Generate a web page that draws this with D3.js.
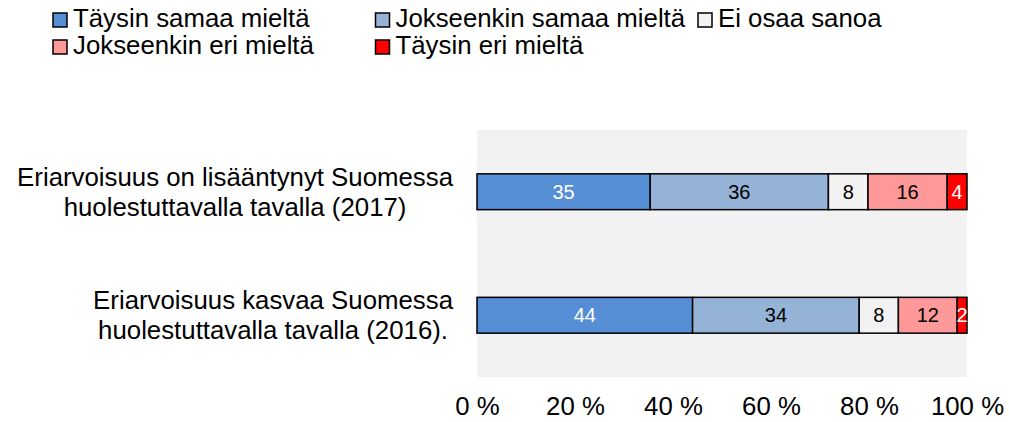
<!DOCTYPE html>
<html>
<head>
<meta charset="utf-8">
<script src="https://cdn.jsdelivr.net/npm/d3@7"></script>
<style>
  body { margin: 0; background: #fff; }
  svg { display: block; font-family: 'Liberation Sans', Arial, sans-serif; }
</style>
</head>
<body>
<div class="container"></div>
<script>
const categories = [
  ['Eriarvoisuus on lisääntynyt Suomessa', 'huolestuttavalla tavalla (2017)'],
  ['Eriarvoisuus kasvaa Suomessa', 'huolestuttavalla tavalla (2016).']
];
const seriesNames = [
  'Täysin samaa mieltä',
  'Jokseenkin samaa mieltä',
  'Ei osaa sanoa',
  'Jokseenkin eri mieltä',
  'Täysin eri mieltä'
];
const seriesColors = ['#558ED5', '#95B3D7', '#F2F2F2', '#FF9999', '#FF0000'];
const labelColors = ['#fff', '#000', '#000', '#000', '#fff'];
const values2017 = [35, 36, 8, 16, 4];
const values2016 = [44, 34, 8, 12, 2];
const tickValues = [0, 0.2, 0.4, 0.6, 0.8, 1];

const w = 1009;
const h = 422;

const svg = d3
  .select('.container')
  .append('svg')
  .attr('width', w)
  .attr('height', h);

const rows = [values2017, values2016].map((vals, i) => {
  const row = { cat: i };
  seriesNames.forEach((s, j) => (row[s] = vals[j]));
  return row;
});

const stack = d3.stack().keys(seriesNames).offset(d3.stackOffsetExpand);
const stacked = stack(rows);

const xScale = d3.scaleLinear().domain([0, 1]).range([477, 967]);
const yScale = d3
  .scaleBand()
  .domain([0, 1])
  .range([130, 377])
  .paddingInner(0.71)
  .paddingOuter(0.355);

// plot background
svg
  .append('rect')
  .attr('x', xScale(0))
  .attr('y', 130)
  .attr('width', xScale(1) - xScale(0))
  .attr('height', 247)
  .attr('fill', '#F2F2F2');

// bars
const groups = svg
  .selectAll('g.series')
  .data(stacked)
  .enter()
  .append('g')
  .attr('class', 'series');

groups
  .selectAll('rect')
  .data((d) => d.map((p) => ({ p, key: d.key, idx: d.index })))
  .enter()
  .append('rect')
  .attr('x', (d) => xScale(d.p[0]))
  .attr('y', (d) => yScale(d.p.data.cat))
  .attr('width', (d) => xScale(d.p[1]) - xScale(d.p[0]))
  .attr('height', yScale.bandwidth())
  .attr('fill', (d) => seriesColors[d.idx])
  .attr('stroke', '#000')
  .attr('stroke-width', 1.5);

groups
  .selectAll('text')
  .data((d) => d.map((p) => ({ p, key: d.key, idx: d.index })))
  .enter()
  .append('text')
  .attr('x', (d) => (xScale(d.p[0]) + xScale(d.p[1])) / 2)
  .attr('y', (d) => yScale(d.p.data.cat) + yScale.bandwidth() / 2 + 7)
  .attr('text-anchor', 'middle')
  .style('font-size', '20px')
  .style('fill', (d) => labelColors[d.idx])
  .text((d) => d.p.data[d.key]);

// category labels, centred lines, right edge at 453
categories.forEach((lines, i) => {
  const cy = yScale(i) + yScale.bandwidth() / 2;
  const t = svg
    .append('text')
    .attr('text-anchor', 'middle')
    .style('font-size', '25.8px')
    .style('fill', '#000');
  lines.forEach((line, k) => {
    t.append('tspan').attr('y', cy - 6 + k * 30).text(line);
  });
  let maxW = 0;
  t.selectAll('tspan').each(function () {
    maxW = Math.max(maxW, this.getComputedTextLength());
  });
  t.selectAll('tspan').attr('x', 453 - maxW / 2);
});

// x axis
const xAxis = d3
  .axisBottom(xScale)
  .tickValues(tickValues)
  .tickSize(0)
  .tickPadding(0)
  .tickFormat((d) => Math.round(d * 100) + ' %');

const gx = svg
  .append('g')
  .attr('transform', 'translate(0,' + 397 + ')')
  .call(xAxis);
gx.select('.domain').remove();
gx.selectAll('text')
  .attr('dy', '0.71em')
  .style('font-size', '25.8px')
  .style('font-family', "'Liberation Sans', Arial, sans-serif")
  .style('fill', '#000');

// legend
const legend = svg
  .selectAll('g.legend')
  .data(seriesNames)
  .enter()
  .append('g')
  .attr('class', 'legend')
  .attr('transform', (d, i) => {
    const col = i % 3;
    const row = Math.floor(i / 3);
    return 'translate(' + (53 + col * 322.5) + ',' + (13 + row * 27) + ')';
  });

legend
  .append('rect')
  .attr('width', 14)
  .attr('height', 14)
  .attr('fill', (d, i) => seriesColors[i])
  .attr('stroke', '#000')
  .attr('stroke-width', 1.5);

legend
  .append('text')
  .attr('x', 20)
  .attr('y', 14)
  .style('font-size', '25.8px')
  .style('fill', '#000')
  .text((d) => d);
</script>
</body>
</html>
